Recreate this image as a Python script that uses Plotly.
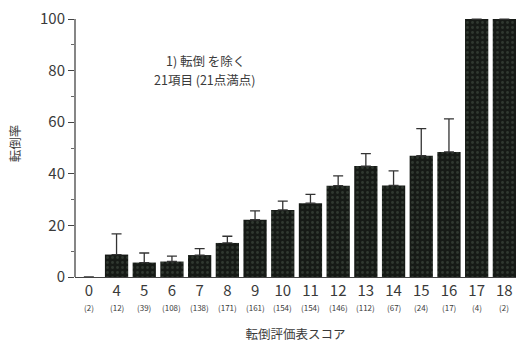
import plotly.graph_objects as go

scores = ["0", "4", "5", "6", "7", "8", "9", "10", "11", "12", "13", "14", "15", "16", "17", "18"]
counts = [2, 12, 39, 108, 138, 171, 161, 154, 154, 146, 112, 67, 24, 17, 4, 2]
rates = [0, 8.7, 5.6, 6.0, 8.5, 13.2, 22.2, 26.0, 28.6, 35.4, 43.0, 35.5, 47.0, 48.5, 100, 100]
errs = [0, 8.0, 3.7, 2.1, 2.5, 2.6, 3.4, 3.4, 3.4, 3.8, 4.8, 5.6, 10.5, 12.8, 0, 0]
yticks = [0, 20, 40, 60, 80, 100]

xs = list(range(len(scores)))
FONT = "Noto Sans CJK JP"
INK = "#3a3a3a"

fig = go.Figure()
fig.add_trace(go.Bar(
    x=xs, y=rates, width=0.84,
    marker=dict(color="#161a16", line=dict(width=0),
                pattern=dict(shape=".", fgcolor="#4a564a", bgcolor="#161a16",
                             size=5, solidity=0.25)),
    error_y=dict(type="data", symmetric=False, array=errs,
                 arrayminus=[0] * len(errs), color="#333333",
                 thickness=1.3, width=5),
    showlegend=False,
))

for x, c in zip(xs, counts):
    fig.add_annotation(x=x, y=0, xref="x", yref="y", text=f"({c})",
                       showarrow=False, yshift=-30, yanchor="middle", borderpad=0,
                       font=dict(size=8, color=INK, family=FONT))

fig.add_annotation(x=4.2, y=84, xref="x", yref="y", text="1) 転倒 を除く",
                   showarrow=False, xanchor="center", yanchor="middle",
                   font=dict(size=12.5, color=INK, family=FONT))
fig.add_annotation(x=4.2, y=76.5, xref="x", yref="y", text="21項目 (21点満点)",
                   showarrow=False, xanchor="center", yanchor="middle",
                   font=dict(size=12.5, color=INK, family=FONT))

# y axis line from 0 to 100
fig.add_shape(type="line", xref="paper", yref="y", x0=0, x1=0, y0=0, y1=100,
              line=dict(color="#444444", width=1.3))

fig.update_layout(
    width=516, height=343,
    margin=dict(l=75, r=0, t=10, b=66),
    paper_bgcolor="white", plot_bgcolor="white",
    font=dict(family=FONT, color=INK),
    xaxis=dict(range=[-0.5, 15.42], tickmode="array", tickvals=xs, ticktext=scores,
               showline=True, linecolor="#444444", linewidth=1.3, ticks="",
               showgrid=False, zeroline=False, tickfont=dict(size=15, color=INK, family=FONT),
               title=dict(text="転倒評価表スコア", font=dict(size=12.5, color=INK, family=FONT),
                          standoff=32)),
    yaxis=dict(range=[0, 103.5], tickmode="array", tickvals=yticks,
               ticks="outside", ticklen=6, tickcolor="#444444", tickwidth=1.2,
               minor=dict(tickvals=[10, 30, 50, 70, 90], ticks="outside", ticklen=3,
                          tickcolor="#666666", tickwidth=1),
               showline=False, showgrid=False, zeroline=False,
               tickfont=dict(size=15, color=INK, family=FONT),
               title=dict(text="転倒率", font=dict(size=12.5, color=INK, family=FONT),
                          standoff=16)),
)

fig.write_html("out.html")
